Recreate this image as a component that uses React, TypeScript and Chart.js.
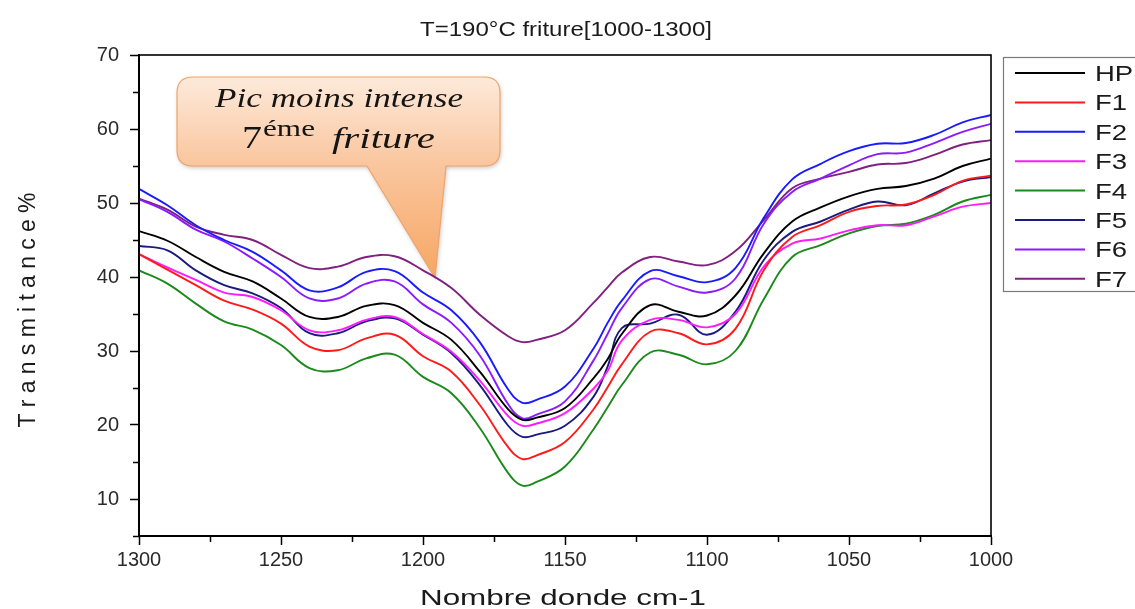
import React, { useEffect, useRef } from 'react';
import { Chart, registerables } from 'chart.js';

Chart.register(...registerables);

// ---------- data ----------
const wavenumbers = [
  1300, 1290, 1280, 1270, 1260, 1250, 1240, 1230, 1220, 1210, 1200, 1190,
  1180, 1170, 1165, 1160, 1150, 1140, 1135, 1130, 1120, 1110, 1100,
  1090, 1080, 1070, 1060, 1050, 1040, 1030, 1020, 1010, 1000,
];

const HP = [46.2, 44.9, 42.7, 40.7, 39.4, 37.1, 34.6, 34.6, 36.1, 36.2, 33.8, 31.5, 27.2, 22.1, 20.7, 21.0, 22.3, 26.3, 28.9, 32.3, 36.2, 35.3, 34.8, 37.5, 43.2, 47.5, 49.4, 50.9, 51.9, 52.3, 53.3, 55.0, 56.0];
const F1 = [43.1, 41.0, 38.9, 36.8, 35.6, 33.7, 30.6, 30.1, 31.7, 32.2, 29.3, 27.2, 22.7, 17.0, 15.4, 15.9, 17.7, 22.1, 25.1, 28.2, 32.6, 32.4, 30.9, 33.0, 40.9, 45.4, 47.0, 48.8, 49.6, 49.8, 51.1, 53.0, 53.7];
const F2 = [51.9, 49.7, 47.0, 45.0, 43.4, 40.9, 38.2, 38.6, 40.7, 40.8, 37.9, 35.5, 31.2, 24.8, 23.0, 23.4, 25.2, 30.3, 33.8, 36.8, 40.8, 40.1, 39.3, 41.2, 48.0, 53.2, 55.3, 57.0, 58.0, 58.1, 59.2, 60.9, 61.9];
const F3 = [43.1, 41.3, 39.6, 37.9, 37.3, 35.5, 32.8, 32.8, 34.2, 34.6, 32.3, 29.9, 26.0, 21.2, 19.9, 20.2, 21.6, 24.9, 27.3, 31.4, 34.2, 34.2, 33.2, 35.0, 41.4, 44.5, 45.2, 46.3, 47.0, 47.0, 48.2, 49.5, 50.0];
const F4 = [40.9, 39.1, 36.4, 34.0, 32.9, 30.8, 27.7, 27.4, 29.0, 29.5, 26.5, 24.3, 19.6, 13.5, 11.8, 12.3, 14.4, 19.4, 22.4, 25.4, 29.8, 29.5, 28.2, 30.0, 37.0, 42.7, 44.3, 45.9, 46.9, 47.2, 48.4, 50.2, 51.1];
const F5 = [44.2, 43.6, 40.9, 38.9, 37.8, 35.8, 32.4, 32.4, 34.0, 34.4, 32.2, 29.7, 25.4, 19.9, 18.4, 18.7, 19.9, 23.8, 27.9, 33.1, 33.7, 34.9, 32.2, 35.3, 42.3, 46.1, 47.5, 49.1, 50.2, 49.7, 51.3, 52.9, 53.5];
const F6 = [50.5, 48.8, 46.4, 44.8, 42.5, 40.0, 37.1, 37.1, 39.1, 39.4, 36.3, 33.8, 29.4, 22.8, 20.9, 21.4, 23.2, 28.7, 32.3, 35.8, 39.7, 38.7, 37.9, 39.8, 47.2, 51.5, 53.3, 55.1, 56.6, 56.8, 58.1, 59.6, 60.7];
const F7 = [50.6, 49.1, 46.8, 45.7, 45.0, 43.0, 41.2, 41.4, 42.7, 42.8, 40.9, 38.5, 34.9, 32.0, 31.2, 31.5, 32.8, 36.5, 38.6, 40.6, 42.7, 42.1, 41.6, 43.5, 47.7, 52.0, 53.3, 54.2, 55.2, 55.4, 56.5, 57.9, 58.5];

const seriesLabels = ['HP', 'F1', 'F2', 'F3', 'F4', 'F5', 'F6', 'F7'];
const seriesValues = [HP, F1, F2, F3, F4, F5, F6, F7];
const seriesColors = ['#000000', '#ff1a1a', '#1a1aff', '#ff1aff', '#1a8a1a', '#1a1a80', '#8a1aff', '#80207f'];

const chartTitle = 'T=190°C friture[1000-1300]';
const xTitle = 'Nombre donde cm-1';
const yTitle = 'Transmitance%';
const calloutLine1 = 'Pic moins intense';
const calloutNum = '7';
const calloutSup = 'éme';
const calloutWord = 'friture';

// ---------- helpers ----------
function drawFitted(ctx: CanvasRenderingContext2D, text: string, x: number, y: number, font: string, width: number, align: CanvasTextAlign = 'center') {
  ctx.save();
  ctx.font = font;
  const w = ctx.measureText(text).width;
  const s = w > 0 ? width / w : 1;
  ctx.translate(x, y);
  ctx.scale(s, 1);
  ctx.textAlign = align;
  ctx.textBaseline = 'alphabetic';
  ctx.fillText(text, 0, 0);
  ctx.restore();
}

const decorPlugin = {
  id: 'decor',
  beforeDatasetsDraw(chart: any) {
    const ctx: CanvasRenderingContext2D = chart.ctx;
    // callout bubble
    const L = 177, R = 500, T = 77, B = 166, r = 16;
    const b1 = 367, b2 = 446, tipX = 435, tipY = 278;
    ctx.save();
    ctx.beginPath();
    ctx.moveTo(L + r, T);
    ctx.lineTo(R - r, T);
    ctx.quadraticCurveTo(R, T, R, T + r);
    ctx.lineTo(R, B - r);
    ctx.quadraticCurveTo(R, B, R - r, B);
    ctx.lineTo(b2, B);
    ctx.lineTo(tipX, tipY);
    ctx.lineTo(b1, B);
    ctx.lineTo(L + r, B);
    ctx.quadraticCurveTo(L, B, L, B - r);
    ctx.lineTo(L, T + r);
    ctx.quadraticCurveTo(L, T, L + r, T);
    ctx.closePath();
    const g = ctx.createLinearGradient(0, T, 0, tipY);
    g.addColorStop(0, '#fdeadb');
    g.addColorStop(0.42, '#fac7a0');
    g.addColorStop(1, '#f6a664');
    ctx.shadowColor = 'rgba(0,0,0,0.22)';
    ctx.shadowBlur = 4;
    ctx.shadowOffsetX = 1;
    ctx.shadowOffsetY = 2;
    ctx.fillStyle = g;
    ctx.fill();
    ctx.shadowColor = 'transparent';
    ctx.strokeStyle = '#f0a466';
    ctx.lineWidth = 1.2;
    ctx.stroke();
    ctx.fillStyle = '#151515';
    drawFitted(ctx, calloutLine1, 339, 107, 'italic 28px "Liberation Serif"', 248);
    drawFitted(ctx, calloutNum, 242, 148, '31px "Liberation Serif"', 20, 'left');
    drawFitted(ctx, calloutSup, 263, 136, '23px "Liberation Serif"', 52, 'left');
    drawFitted(ctx, calloutWord, 332, 148, 'italic 30px "Liberation Serif"', 103, 'left');
    ctx.restore();
  },
  afterDatasetsDraw(chart: any) {
    const ctx: CanvasRenderingContext2D = chart.ctx;
    const a = chart.chartArea;
    const { x, y } = chart.scales;
    ctx.save();
    // frame
    ctx.strokeStyle = '#000';
    ctx.lineWidth = 1.6;
    ctx.strokeRect(a.left, a.top, a.right - a.left, a.bottom - a.top);
    // minor ticks
    ctx.lineWidth = 1.5;
    ctx.beginPath();
    x.ticks.forEach((t: any) => {
      if (t.value % 50 !== 0) {
        const px = Math.round(x.getPixelForValue(t.value)) + 0.5;
        ctx.moveTo(px, a.bottom);
        ctx.lineTo(px, a.bottom + 6);
      }
    });
    y.ticks.forEach((t: any) => {
      if (t.value % 10 !== 0) {
        const py = Math.round(y.getPixelForValue(t.value)) + 0.5;
        ctx.moveTo(a.left - 6, py);
        ctx.lineTo(a.left, py);
      }
    });
    ctx.stroke();
    ctx.restore();
  },
  afterDraw(chart: any) {
    const ctx: CanvasRenderingContext2D = chart.ctx;
    ctx.save();
    ctx.fillStyle = '#1a1a1a';
    // title
    drawFitted(ctx, chartTitle, 566, 36, '20px "Liberation Sans", Arial, sans-serif', 292);
    // x title
    drawFitted(ctx, xTitle, 563, 605, '22px "Liberation Sans", Arial, sans-serif', 286);
    // y title (rotated)
    ctx.save();
    ctx.translate(35, 310);
    ctx.rotate(-Math.PI / 2);
    ctx.font = '23px "Liberation Sans", Arial, sans-serif';
    const chars = yTitle.split('');
    const totalW = 235;
    const widths = chars.map((c) => ctx.measureText(c).width);
    const sumW = widths.reduce((p, c) => p + c, 0);
    const gap = (totalW - sumW) / (chars.length - 1);
    let cx = -totalW / 2;
    ctx.textAlign = 'left';
    chars.forEach((c, i) => {
      ctx.fillText(c, cx, 0);
      cx += widths[i] + gap;
    });
    ctx.restore();

    // legend
    const lx = 1003, ly = 57, lh = 234;
    ctx.strokeStyle = '#7a7a7a';
    ctx.lineWidth = 1.2;
    ctx.strokeRect(lx + 0.5, ly + 0.5, 200, lh);
    chart.data.datasets.forEach((ds: any, i: number) => {
      const ry = 73 + i * 29.4;
      ctx.strokeStyle = ds.borderColor;
      ctx.lineWidth = 2;
      ctx.beginPath();
      ctx.moveTo(1015, ry);
      ctx.lineTo(1085, ry);
      ctx.stroke();
      ctx.save();
      ctx.fillStyle = '#1a1a1a';
      ctx.font = '22px "Liberation Sans", Arial, sans-serif';
      ctx.translate(1095, ry + 8);
      ctx.scale(1.25, 1);
      ctx.textAlign = 'left';
      ctx.fillText(ds.label, 0, 0);
      ctx.restore();
    });
    ctx.restore();
  },
};

export default function App() {
  const ref = useRef<HTMLCanvasElement | null>(null);

  useEffect(() => {
    if (!ref.current) return;
    const datasets = seriesLabels.map((label, i) => ({
      label,
      data: wavenumbers.map((w, j) => ({ x: w, y: seriesValues[i][j] })),
      borderColor: seriesColors[i],
      backgroundColor: seriesColors[i],
      borderWidth: 1.9,
      pointRadius: 0,
      tension: 0.4,
      fill: false,
    }));

    const tickFont = { family: '"Liberation Sans", Arial, sans-serif', size: 20 };

    const chart = new Chart(ref.current, {
      type: 'line',
      data: { datasets },
      options: {
        animation: false,
        responsive: false,
        devicePixelRatio: 1,
        layout: { padding: { top: 55, right: 144, left: 0, bottom: 0 } },
        plugins: {
          legend: { display: false },
          title: { display: false },
          tooltip: { enabled: false },
        },
        scales: {
          x: {
            type: 'linear',
            reverse: true,
            min: 1000,
            max: 1300,
            afterFit: (s: any) => { s.height = 73; },
            ticks: {
              stepSize: 25,
              autoSkip: false,
              maxRotation: 0,
              padding: 3,
              color: '#2a2a2a',
              font: tickFont,
              callback: (v: any) => (Number(v) % 50 === 0 ? String(v) : ''),
            },
            grid: {
              drawOnChartArea: false,
              drawTicks: true,
              tickLength: 9,
              tickWidth: 1.5,
              tickColor: (c: any) => (c.tick && c.tick.value % 50 === 0 ? '#000' : 'rgba(0,0,0,0)'),
            },
            border: { display: true, color: '#000', width: 2 },
          },
          y: {
            type: 'linear',
            min: 5,
            max: 70,
            afterFit: (s: any) => { s.width = 139; },
            ticks: {
              stepSize: 5,
              autoSkip: false,
              padding: 11,
              color: '#2a2a2a',
              font: tickFont,
              callback: (v: any) => (Number(v) % 10 === 0 ? String(v) : ''),
            },
            grid: {
              drawOnChartArea: false,
              drawTicks: true,
              tickLength: 9,
              tickWidth: 1.5,
              tickColor: (c: any) => (c.tick && c.tick.value % 10 === 0 ? '#000' : 'rgba(0,0,0,0)'),
            },
            border: { display: true, color: '#000', width: 2 },
          },
        },
      },
      plugins: [decorPlugin],
    });
    return () => chart.destroy();
  }, []);

  return (
    <div style={{ position: 'absolute', left: 0, top: 0, width: 1135, height: 609, background: '#fff' }}>
      <canvas ref={ref} width={1135} height={609} style={{ width: 1135, height: 609, display: 'block' }} />
    </div>
  );
}
